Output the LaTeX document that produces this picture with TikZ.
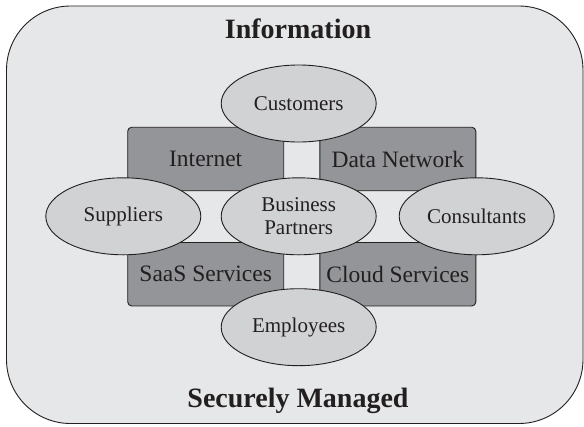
\documentclass[tikz,border=0pt]{standalone}
\usepackage{fontspec}
\setmainfont{Liberation Serif}
\usepackage{tikz}
\usetikzlibrary{shapes.geometric}
\definecolor{infobg}{HTML}{E6E7E8}
\definecolor{rectgray}{HTML}{939598}
\definecolor{ovalgray}{HTML}{D1D2D4}
\definecolor{linedark}{HTML}{231F20}

\begin{document}
\begin{tikzpicture}[x=1pt,y=-1pt,line width=0.9pt,every node/.style={text=linedark},
  channel/.style={rectangle,draw=linedark,fill=rectgray,rounded corners=4pt,minimum width=156pt,minimum height=63.5pt,inner sep=0pt,font=\fontsize{23.5}{26}\selectfont},
  party/.style={ellipse,draw=linedark,fill=ovalgray,minimum width=155pt,minimum height=77pt,inner sep=0pt,align=center,font=\fontsize{21}{23.5}\selectfont},
  heading/.style={font=\fontsize{28}{30}\selectfont\bfseries}]
\useasboundingbox (0,0) rectangle (584,426);
% outer frame
\draw[fill=infobg,draw=linedark,rounded corners=64pt] (6.5,6) rectangle (583,423.5);
\node [heading] (info) at (298,28.5) {Information};
\node [heading] (secure) at (298,401) {Securely Managed};
% channels
\node [channel] (internet) at (205.7,159) {Internet};
\node [channel] (datanet) at (397.8,159) {Data Network};
\node [channel] (saas) at (205.7,274.2) {SaaS Services};
\node [channel] (cloud) at (397.8,274.2) {Cloud Services};
% parties
\node [party] (customers) at (298.7,103.5) {Customers};
\node [party] (partners) at (298.7,216.3) {Business\\Partners};
\node [party] (employees) at (298.7,327.2) {Employees};
\node [party] (suppliers) at (123.3,216.3) {Suppliers};
\node [party] (consultants) at (476.7,216.3) {Consultants};
\end{tikzpicture}
\end{document}
